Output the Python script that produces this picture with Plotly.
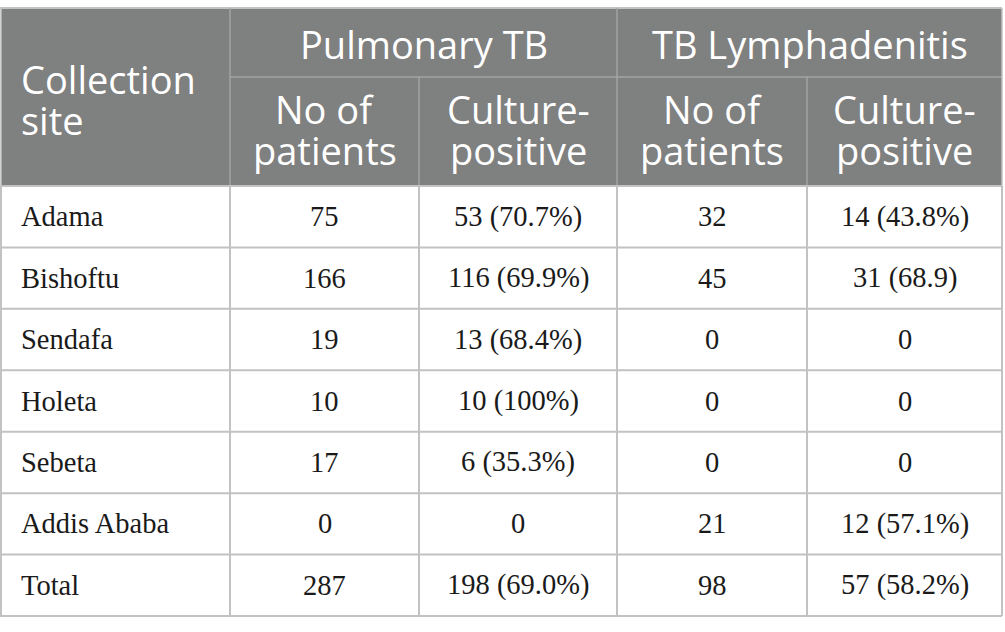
import plotly.graph_objects as go

# table content
sites = ["Adama", "Bishoftu", "Sendafa", "Holeta", "Sebeta", "Addis Ababa", "Total"]
ptb_patients = ["75", "166", "19", "10", "17", "0", "287"]
ptb_positive = ["53 (70.7%)", "116 (69.9%)", "13 (68.4%)", "10 (100%)", "6 (35.3%)", "0", "198 (69.0%)"]
tbl_patients = ["32", "45", "0", "0", "0", "21", "98"]
tbl_positive = ["14 (43.8%)", "31 (68.9)", "0", "0", "0", "12 (57.1%)", "57 (58.2%)"]

group_headers = ["Pulmonary TB", "TB Lymphadenitis"]
sub_headers = [["No of", "patients"], ["Culture-", "positive"]]
first_header = ["Collection", "site"]

# layout (axis units == pixels)
W, H = 1005, 632
col_edges = [1, 230, 419, 617, 807, 1002]
y_top, y_mid, y_head = 8, 77, 186
row_h = (616 - y_head) / len(sites)

HEAD_BG = "#7f8080"
HEAD_LINE = "#a3a3a3"
BODY_LINE = "#c2c2c2"
head_font = dict(family="Open Sans", size=38, color="white")
body_font = dict(family="Liberation Serif", size=28.5, color="#1a1a1a")
line_gap = 41
line_box = [32, 48]  # box heights so stacked header lines don't overlap

fig = go.Figure()
shapes = []
ann = []

# header background
shapes.append(dict(type="rect", x0=col_edges[0], x1=col_edges[-1], y0=y_top, y1=y_head,
                   fillcolor=HEAD_BG, line_width=0, layer="below"))
shapes.append(dict(type="line", x0=col_edges[0] - 1, x1=col_edges[-1], y0=y_top, y1=y_top,
                   line=dict(color=BODY_LINE, width=2)))
shapes.append(dict(type="line", x0=col_edges[1], x1=col_edges[-1], y0=y_mid, y1=y_mid,
                   line=dict(color=HEAD_LINE, width=1.5)))
for i, x in enumerate(col_edges):
    top = y_top if i in (0, 1, 3, 5) else y_mid
    shapes.append(dict(type="line", x0=x, x1=x, y0=top, y1=y_head,
                       line=dict(color=HEAD_LINE if 0 < i < 5 else BODY_LINE, width=1.5)))

# body grid
n = len(sites)
for r in range(n + 1):
    y = y_head + r * row_h
    shapes.append(dict(type="line", x0=col_edges[0] - 1, x1=col_edges[-1], y0=y, y1=y,
                       line=dict(color=BODY_LINE, width=2)))
for x in col_edges:
    shapes.append(dict(type="line", x0=x, x1=x, y0=y_head, y1=y_head + n * row_h,
                       line=dict(color=BODY_LINE, width=2)))


def add_text(text, x, y, font, xanchor="center", height=None):
    a = dict(text=text, x=x, y=y, xref="x", yref="y", showarrow=False,
             xanchor=xanchor, yanchor="middle", font=font, borderpad=0)
    if height:
        a["height"] = height
    ann.append(a)


def add_lines(lines, x, yc, font, xanchor="center"):
    start = yc - line_gap * (len(lines) - 1) / 2
    for k, t in enumerate(lines):
        add_text(t, x, start + k * line_gap, font, xanchor, line_box[k])


centers = [(col_edges[i] + col_edges[i + 1]) / 2 for i in range(5)]

# header text
add_lines(first_header, 20, (y_top + y_head) / 2 + 2, head_font, "left")
add_text(group_headers[0], (col_edges[1] + col_edges[3]) / 2, (y_top + y_mid) / 2 + 1, head_font)
add_text(group_headers[1], (col_edges[3] + col_edges[5]) / 2, (y_top + y_mid) / 2 + 1, head_font)
for g in range(2):
    for s in range(2):
        add_lines(sub_headers[s], centers[1 + 2 * g + s], (y_mid + y_head) / 2 - 2, head_font)

# body text
columns = [ptb_patients, ptb_positive, tbl_patients, tbl_positive]
for r in range(n):
    yc = y_head + (r + 0.5) * row_h
    add_text(sites[r], 20, yc, body_font, "left")
    for c, col in enumerate(columns):
        add_text(col[r], centers[c + 1], yc, body_font)

fig.update_layout(
    width=W, height=H,
    margin=dict(l=0, r=0, t=0, b=0),
    paper_bgcolor="white", plot_bgcolor="white",
    xaxis=dict(range=[0, W], visible=False, fixedrange=True),
    yaxis=dict(range=[H, 0], visible=False, fixedrange=True),
    shapes=shapes, annotations=ann, showlegend=False,
)

fig.write_html("out.html", config={"displayModeBar": False},
               post_script="document.body.style.margin='0';document.body.style.overflow='hidden';")
